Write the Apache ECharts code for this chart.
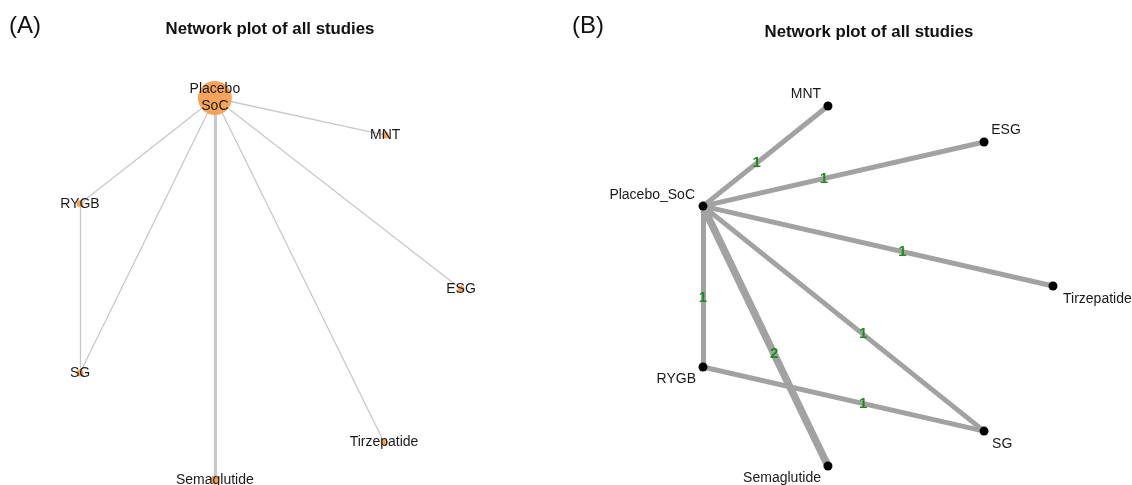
<!DOCTYPE html>
<html><head><meta charset="utf-8">
<script src="https://cdn.jsdelivr.net/npm/echarts@6/dist/echarts.min.js"></script>
<style>html,body{margin:0;padding:0;background:#fff}#c{width:1132px;height:485px}</style>
</head><body><div id="c"></div>
<script>
// ---- data ----
const treatments = ['Placebo_SoC', 'MNT', 'ESG', 'Tirzepatide', 'Semaglutide', 'SG', 'RYGB'];
// layout coordinates (panel A)
const layoutAx = [0.354, 0.801, 1.000, 0.798, 0.354, 0.000, 0.000];
const layoutAy = [1.000, 0.903, 0.500, 0.099, 0.000, 0.280, 0.723];
// layout coordinates (panel B)
const layoutBx = [0.000, 0.357, 0.803, 1.000, 0.357, 0.803, 0.000];
const layoutBy = [0.722, 1.000, 0.900, 0.500, 0.000, 0.097, 0.275];
// direct comparisons and number of studies
const compTreat1 = ['ESG', 'MNT', 'Placebo_SoC', 'Placebo_SoC', 'Placebo_SoC', 'Placebo_SoC', 'RYGB'];
const compTreat2 = ['Placebo_SoC', 'Placebo_SoC', 'RYGB', 'SG', 'Semaglutide', 'Tirzepatide', 'SG'];
const compStudies = [1, 1, 1, 1, 2, 1, 1];
const panelLabels = ['(A)', '(B)'];
const panelTitle = 'Network plot of all studies';

// ---- styles ----
const FONT = '"Liberation Sans", Arial, Helvetica, sans-serif';
const nodeSizeA = { Placebo_SoC: 34, Semaglutide: 9 };
const edgeWidthA = [1.3, 3.2];
const edgeWidthB = [5, 7.5];
const labelPlaceB = {
  Placebo_SoC: ['right', -8, -11],
  MNT: ['center', -22, -12],
  ESG: ['center', 22, -12],
  Tirzepatide: ['left', 10, 13],
  Semaglutide: ['right', -7, 12],
  SG: ['left', 8, 13],
  RYGB: ['right', -7, 12]
};
const EDGE_LABEL_T = 0.57;

const idx = n => treatments.indexOf(n);

const chart = echarts.init(document.getElementById('c'), null, { renderer: 'canvas' });

const seriesA = {
  type: 'graph', coordinateSystem: 'cartesian2d', xAxisIndex: 0, yAxisIndex: 0,
  layout: 'none', silent: true, z: 2,
  data: treatments.map((t, i) => ({
    name: t, value: [layoutAx[i], layoutAy[i]],
    symbolSize: nodeSizeA[t] || 7
  })),
  links: compTreat1.map((a, i) => ({
    source: a, target: compTreat2[i],
    lineStyle: { width: edgeWidthA[compStudies[i] - 1] }
  })),
  itemStyle: { color: '#f6a45c', borderWidth: 0 },
  lineStyle: { color: '#c9c9c9', opacity: 1, curveness: 0 },
  label: {
    show: true, position: 'inside', fontSize: 14, color: '#1a1a1a', fontFamily: FONT,
    lineHeight: 17, formatter: p => p.name.replace('_', '\n')
  }
};

const seriesB = {
  type: 'graph', coordinateSystem: 'cartesian2d', xAxisIndex: 1, yAxisIndex: 1,
  layout: 'none', silent: true, z: 2,
  data: treatments.map((t, i) => {
    const lp = labelPlaceB[t];
    return {
      name: t, value: [layoutBx[i], layoutBy[i]],
      label: { align: lp[0], offset: [lp[1], lp[2]] }
    };
  }),
  links: compTreat1.map((a, i) => ({
    source: a, target: compTreat2[i],
    lineStyle: { width: edgeWidthB[compStudies[i] - 1] }
  })),
  symbolSize: 9,
  itemStyle: { color: '#000000', borderWidth: 0 },
  lineStyle: { color: '#a2a2a2', opacity: 1, curveness: 0 },
  label: {
    show: true, position: 'inside', fontSize: 14, color: '#1a1a1a', fontFamily: FONT,
    verticalAlign: 'middle'
  }
};

const edgeLabelsB = {
  type: 'scatter', xAxisIndex: 1, yAxisIndex: 1, silent: true, z: 5,
  symbolSize: 2, itemStyle: { color: 'rgba(0,0,0,0)' },
  data: compTreat1.map((a, i) => {
    const p = idx(a), q = idx(compTreat2[i]);
    return [
      layoutBx[p] + (layoutBx[q] - layoutBx[p]) * EDGE_LABEL_T,
      layoutBy[p] + (layoutBy[q] - layoutBy[p]) * EDGE_LABEL_T,
      compStudies[i]
    ];
  }),
  label: {
    show: true, position: 'inside', formatter: p => String(p.value[2]),
    color: '#1f8a1f', fontWeight: 'bold', fontSize: 15, fontFamily: FONT,
    textBorderWidth: 0, opacity: 1
  },
  labelLayout: { hideOverlap: false }
};

const axisBase = { type: 'value', min: 0, max: 1, show: false };

chart.setOption({
  animation: false,
  backgroundColor: '#ffffff',
  title: [
    { text: panelLabels[0], left: 9, top: 14, padding: 0,
      textStyle: { fontSize: 24, fontWeight: 'normal', color: '#111', fontFamily: FONT } },
    { text: panelLabels[1], left: 572, top: 14, padding: 0,
      textStyle: { fontSize: 24, fontWeight: 'normal', color: '#111', fontFamily: FONT } },
    { text: panelTitle, left: 270, top: 21, textAlign: 'center', padding: 0,
      textStyle: { fontSize: 16.8, fontWeight: 'bold', color: '#111', fontFamily: FONT } },
    { text: panelTitle, left: 869, top: 24, textAlign: 'center', padding: 0,
      textStyle: { fontSize: 16.8, fontWeight: 'bold', color: '#111', fontFamily: FONT } }
  ],
  grid: [
    { left: 80, top: 98, width: 381, height: 382 },
    { left: 703, top: 106, width: 350, height: 360 }
  ],
  xAxis: [Object.assign({ gridIndex: 0 }, axisBase), Object.assign({ gridIndex: 1 }, axisBase)],
  yAxis: [Object.assign({ gridIndex: 0 }, axisBase), Object.assign({ gridIndex: 1 }, axisBase)],
  series: [seriesA, seriesB, edgeLabelsB]
});
</script>
</body></html>
